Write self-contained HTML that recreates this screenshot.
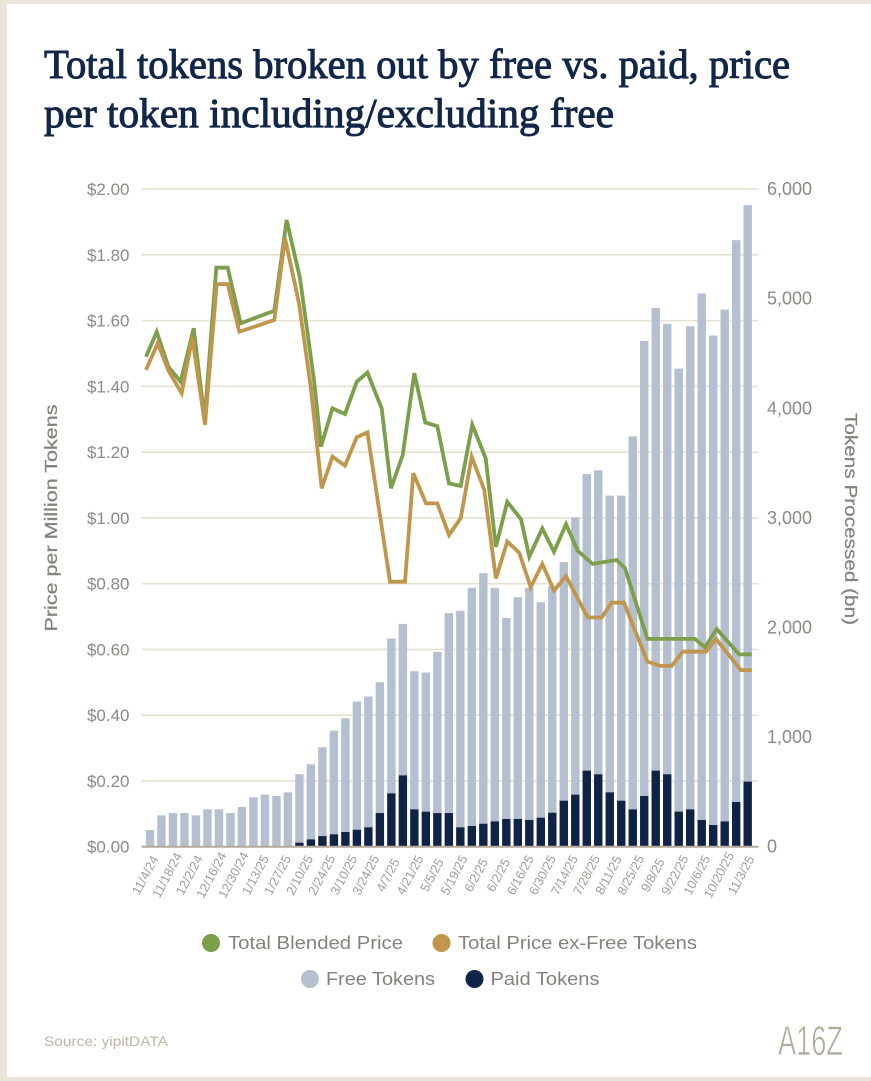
<!DOCTYPE html>
<html lang="en">
<head>
<meta charset="utf-8">
<title>Total tokens broken out by free vs. paid</title>
<style>
  html, body { margin: 0; padding: 0; background: #e9e5da; }
  body { width: 871px; height: 1081px; overflow: hidden; }
  svg { display: block; }
  text { font-family: "Liberation Sans", sans-serif; }
</style>
</head>
<body>
<svg id="chart" xmlns="http://www.w3.org/2000/svg" width="871" height="1081" viewBox="0 0 871 1081">
  <rect x="0" y="0" width="871" height="1081" fill="#e9e5da"/>
  <rect x="7" y="4" width="864" height="1073" fill="#ffffff"/>

  <text x="44" y="78" textLength="746" lengthAdjust="spacingAndGlyphs" fill="#12264a" stroke="#12264a" stroke-width="1" font-size="41" style="font-family:'Liberation Serif',serif">Total tokens broken out by free vs. paid, price</text>
  <text x="44" y="127" textLength="570" lengthAdjust="spacingAndGlyphs" fill="#12264a" stroke="#12264a" stroke-width="1" font-size="41" style="font-family:'Liberation Serif',serif">per token including/excluding free</text>

  <g id="grid"></g>
  <g id="bars"></g>
  <line x1="141.5" x2="758.5" y1="846.7" y2="846.7" stroke="#b5aa98" stroke-width="2"/>
  <g id="lines"></g>
  <g id="axis-left"></g>
  <g id="axis-right"></g>
  <g id="axis-x"></g>

  <text transform="translate(57,518) rotate(-90)" text-anchor="middle" font-size="17.5" textLength="227" lengthAdjust="spacingAndGlyphs" fill="#85827b" stroke="#85827b" stroke-width="0.25">Price per Million Tokens</text>
  <text transform="translate(845,519) rotate(90)" text-anchor="middle" font-size="17.5" textLength="212" lengthAdjust="spacingAndGlyphs" fill="#85827b" stroke="#85827b" stroke-width="0.25">Tokens Processed (bn)</text>

  <g>
    <g>
      <circle cx="211" cy="943" r="9" fill="#7c9f4b"/>
      <text x="228" y="949" font-size="18.5" textLength="175" lengthAdjust="spacingAndGlyphs" fill="#85827b">Total Blended Price</text>
    </g>
    <g>
      <circle cx="441.5" cy="943" r="9" fill="#c0964d"/>
      <text x="458" y="949" font-size="18.5" textLength="239" lengthAdjust="spacingAndGlyphs" fill="#85827b">Total Price ex-Free Tokens</text>
    </g>
    <g>
      <circle cx="310" cy="979" r="9" fill="#b4bfd0"/>
      <text x="326" y="985" font-size="18.5" textLength="109" lengthAdjust="spacingAndGlyphs" fill="#85827b">Free Tokens</text>
    </g>
    <g>
      <circle cx="474.5" cy="979" r="9" fill="#0f2347"/>
      <text x="490.5" y="985" font-size="18.5" textLength="109" lengthAdjust="spacingAndGlyphs" fill="#85827b">Paid Tokens</text>
    </g>
  </g>

  <text x="44" y="1046" font-size="14" textLength="124" lengthAdjust="spacingAndGlyphs" fill="#bdb4a5">Source: yipitDATA</text>
  <text x="778" y="1055" font-size="42" textLength="65" lengthAdjust="spacingAndGlyphs" fill="#b3a899" stroke="#ffffff" stroke-width="0.8">A16Z</text>
</svg>

<script>
const priceTicks = [0, 0.2, 0.4, 0.6, 0.8, 1.0, 1.2, 1.4, 1.6, 1.8, 2.0];
const tokenTicks = [0, 1000, 2000, 3000, 4000, 5000, 6000];
const xTickLabels = ["11/4/24","11/18/24","12/2/24","12/16/24","12/30/24","1/13/25","1/27/25","2/10/25","2/24/25","3/10/25","3/24/25","4/7/25","4/21/25","5/5/25","5/19/25","6/2/25","6/2/25","6/16/25","6/30/25","7/14/25","7/28/25","8/11/25","8/25/25","9/8/25","9/22/25","10/6/25","10/20/25","11/3/25"];

const freeTokens = [152,286,307,307,286,341,341,307,362,451,475,463,496,624,685,810,946,1038,1169,1193,1194,1412,1382,1260,1269,1471,1824,1975,2173,2286,2131,1835,2024,2118,1966,2070,2177,2529,2706,2773,2707,2783,3403,4152,4222,4109,4042,4408,4804,4466,4670,5126,5260];
const paidTokens = [0,0,0,0,0,0,0,0,0,0,0,0,0,37,67,97,113,134,155,177,307,487,651,341,320,307,307,177,189,210,231,253,253,244,265,310,420,475,694,661,496,420,341,463,694,661,320,341,244,198,231,408,594];

const blendedWeeks = [0,0.93,1.95,3.02,4.16,5.11,6.13,7.12,8.25,11.19,12.26,13.43,14.65,15.26,16.25,17.35,18.37,19.3,20.55,21.36,22.38,23.39,24.35,25.4,26.42,27.44,28.45,29.62,30.51,31.5,32.69,33.42,34.55,35.57,36.62,37.64,38.94,41.04,41.76,43.71,47.86,48.73,49.76,51.7,52.81];
const blendedPrice = [1.49,1.566,1.46,1.414,1.577,1.3,1.761,1.761,1.592,1.63,1.906,1.729,1.419,1.217,1.333,1.316,1.414,1.442,1.333,1.09,1.191,1.44,1.29,1.279,1.105,1.097,1.283,1.181,0.912,1.049,0.996,0.882,0.968,0.897,0.981,0.9,0.86,0.872,0.847,0.632,0.632,0.606,0.662,0.585,0.585];

const exFreeWeeks = [0,1.02,1.95,3.11,4.04,5.14,6.16,7.12,8.13,11.19,12.12,13.34,14.36,15.32,16.25,17.35,18.37,19.3,21.27,22.58,23.3,24.41,25.4,26.42,27.44,28.4,29.49,30.51,31.5,32.55,33.54,34.55,35.57,36.62,38.51,39.73,40.6,41.67,43.71,44.82,45.83,46.79,48.82,49.69,51.87,52.81];
const exFreePrice = [1.45,1.531,1.448,1.379,1.549,1.283,1.711,1.711,1.566,1.602,1.85,1.653,1.399,1.09,1.186,1.159,1.245,1.26,0.806,0.806,1.136,1.044,1.044,0.948,0.999,1.186,1.085,0.816,0.928,0.894,0.789,0.86,0.779,0.823,0.697,0.697,0.742,0.742,0.563,0.55,0.55,0.593,0.593,0.632,0.537,0.537];

const NS = "http://www.w3.org/2000/svg";
function yPrice(v) { return 846.7 - v * 328.8; }
function yToken(v) { return 846.7 - v * 0.1096; }
function xBar(i) { return 150 + i * 11.494; }
function xWeek(w) { return 146 + w * 11.47; }
function xTick(i) { return 145 + i * 22.07; }
function el(tag, parent) {
  const n = document.createElementNS(NS, tag);
  parent.appendChild(n);
  return n;
}
function fmtPrice(v) { return "$" + v.toFixed(2); }
function fmtToken(v) { return v.toString().replace(/\B(?=(\d{3})+$)/g, ","); }

const gridG = document.getElementById("grid");
priceTicks.forEach(function (t) {
  if (t === 0) return;
  const l = el("line", gridG);
  
  
  l.setAttribute("x1", 141.5);
  l.setAttribute("x2", 758.5);
  l.setAttribute("y1", yPrice(t));
  l.setAttribute("y2", yPrice(t));
  l.setAttribute("stroke", "#e6e0d0");
  l.setAttribute("stroke-width", "1.6");
});

const barsG = document.getElementById("bars");
freeTokens.forEach(function (f, i) {
  const p = paidTokens[i];
  const free = el("rect", barsG);
  
  
  free.setAttribute("x", xBar(i) - 4.2);
  free.setAttribute("width", 8.4);
  free.setAttribute("y", yToken(f + p));
  free.setAttribute("height", yToken(p) - yToken(f + p));
  free.setAttribute("fill", "#b4bfd0");
  if (p > 0) {
    const paid = el("rect", barsG);
    
    
    paid.setAttribute("x", xBar(i) - 4.2);
    paid.setAttribute("width", 8.4);
    paid.setAttribute("y", yToken(p));
    paid.setAttribute("height", yToken(0) - yToken(p));
    paid.setAttribute("fill", "#0f2347");
  }
});

const linesG = document.getElementById("lines");
function pointsOf(weeks, values) {
  return values.map(function (v, i) { return xWeek(weeks[i]).toFixed(1) + "," + yPrice(v).toFixed(1); }).join(" ");
}
const greenLine = el("polyline", linesG);


greenLine.setAttribute("points", pointsOf(blendedWeeks, blendedPrice));
greenLine.setAttribute("fill", "none");
greenLine.setAttribute("stroke", "#7c9f4b");
greenLine.setAttribute("stroke-width", "3.8");
greenLine.setAttribute("stroke-linejoin", "miter");

const tanLine = el("polyline", linesG);


tanLine.setAttribute("points", pointsOf(exFreeWeeks, exFreePrice));
tanLine.setAttribute("fill", "none");
tanLine.setAttribute("stroke", "#c0964d");
tanLine.setAttribute("stroke-width", "3.8");
tanLine.setAttribute("stroke-linejoin", "miter");

const leftG = document.getElementById("axis-left");
priceTicks.forEach(function (t) {
  const n = el("text", leftG);
  
  
  n.setAttribute("x", 129.5);
  n.setAttribute("y", yPrice(t) + 6);
  n.setAttribute("text-anchor", "end");
  n.setAttribute("font-size", "17");
  n.setAttribute("fill", "#8d8a84");
  n.textContent = fmtPrice(t);
});

const rightG = document.getElementById("axis-right");
tokenTicks.forEach(function (t) {
  const n = el("text", rightG);
  
  
  n.setAttribute("x", 767);
  n.setAttribute("y", yToken(t) + 6);
  n.setAttribute("font-size", "18");
  n.setAttribute("fill", "#8d8a84");
  n.textContent = fmtToken(t);
});

const xG = document.getElementById("axis-x");
xTickLabels.forEach(function (t, i) {
  const n = el("text", xG);
  
  
  n.setAttribute("transform", "translate(" + xTick(i) + ",875) rotate(-62)");
  n.setAttribute("y", 4.5);
  n.setAttribute("text-anchor", "middle");
  n.setAttribute("font-size", "12.8");
  n.setAttribute("fill", "#a09d96");
  n.textContent = t;
});
</script>
</body>
</html>
